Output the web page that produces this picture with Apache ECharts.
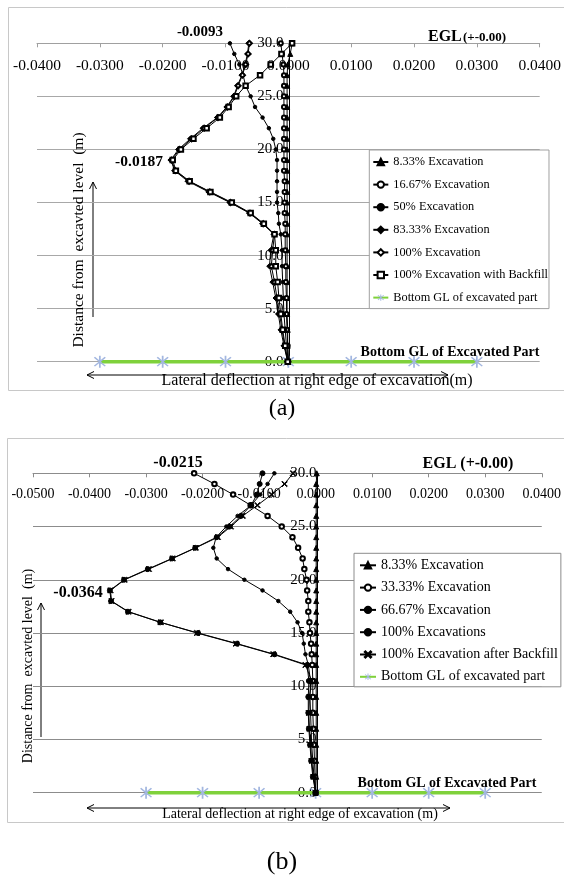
<!DOCTYPE html>
<html>
<head>
<meta charset="utf-8">
<script src="https://cdn.jsdelivr.net/npm/echarts@6/dist/echarts.min.js"></script>
<style>
  html, body { margin: 0; padding: 0; background: #fff; }
  #chart { width: 564px; height: 877px; }
</style>
</head>
<body>
<div id="chart"></div>
<script>
// distance from excavated level (m), same points for every curve
var depths = [30, 29, 28, 27, 26, 25, 24, 23, 22, 21, 20, 19, 18, 17, 16, 15, 14, 13, 12, 10.5, 9, 7.5, 6, 4.5, 3, 1.5, 0];

// (a) lateral deflection (m)
var aExc833 = [0.0006, 0.0003, -0.0001, -0.0002, -0.0002, -0.0002, -0.0002, -0.0002, -0.0002, -0.0002, -0.0002, -0.0002, -0.0002, -0.0002, -0.0002, -0.0002, -0.0002, -0.0002, -0.0002, -0.0002, -0.0002, -0.0002, -0.0002, -0.0002, -0.0001, -0.0001, 0];
var aExc1667 = [-0.0012, -0.0010, -0.0008, -0.0007, -0.0007, -0.0007, -0.0007, -0.0007, -0.0007, -0.0007, -0.0007, -0.0007, -0.0007, -0.0006, -0.0006, -0.0006, -0.0006, -0.0005, -0.0005, -0.0005, -0.0004, -0.0004, -0.0003, -0.0003, -0.0002, -0.0001, 0];
var aExc50 = [-0.0093, -0.0086, -0.0078, -0.0072, -0.0068, -0.0060, -0.0053, -0.0041, -0.0031, -0.0024, -0.0020, -0.0018, -0.0018, -0.0018, -0.0018, -0.0018, -0.0016, -0.0015, -0.0012, -0.0010, -0.0010, -0.0009, -0.0008, -0.0007, -0.0005, -0.0003, 0];
var aExc8333 = [-0.0063, -0.0065, -0.0069, -0.0074, -0.0081, -0.0087, -0.0098, -0.0113, -0.0136, -0.0156, -0.0175, -0.0187, -0.0181, -0.0160, -0.0127, -0.0093, -0.0062, -0.0041, -0.0023, -0.0028, -0.0030, -0.0025, -0.0020, -0.0016, -0.0012, -0.0007, -0.0001];
var aExc100 = [-0.0062, -0.0064, -0.0068, -0.0073, -0.0080, -0.0086, -0.0097, -0.0112, -0.0134, -0.0154, -0.0173, -0.0186, -0.0180, -0.0158, -0.0125, -0.0092, -0.0061, -0.0040, -0.0022, -0.0025, -0.0027, -0.0022, -0.0018, -0.0014, -0.0010, -0.0006, -0.0001];
var aBackfill = [0.0006, -0.0011, -0.0028, -0.0045, -0.0068, -0.0083, -0.0095, -0.0109, -0.0130, -0.0151, -0.0171, -0.0184, -0.0179, -0.0157, -0.0124, -0.0090, -0.0060, -0.0039, -0.0022, -0.0020, -0.0020, -0.0017, -0.0015, -0.0012, -0.0009, -0.0005, -0.0001];

// (b) lateral deflection (m)
var bExc833 = [0.0002, 0.0001, 0.0001, 0.0001, 0.0001, 0.0001, 0.0001, 0.0001, 0.0001, 0.0001, 0.0001, 0.0001, 0.0001, 0.0001, 0.0001, 0.0001, 0.0001, 0.0001, 0.0001, 0.0001, 0.0001, 0.0001, 0.0001, 0.0001, 0.0001, 0.0001, 0];
var bExc3333 = [-0.0215, -0.0179, -0.0146, -0.0115, -0.0085, -0.0060, -0.0041, -0.0031, -0.0023, -0.0020, -0.0016, -0.0015, -0.0013, -0.0013, -0.0011, -0.0010, -0.0008, -0.0007, -0.0006, -0.0005, -0.0005, -0.0005, -0.0004, -0.0003, -0.0002, -0.0001, 0];
var bExc6667 = [-0.0073, -0.0085, -0.0098, -0.0114, -0.0138, -0.0158, -0.0176, -0.0181, -0.0175, -0.0155, -0.0126, -0.0094, -0.0066, -0.0045, -0.0032, -0.0024, -0.0021, -0.0018, -0.0013, -0.0009, -0.0010, -0.0009, -0.0008, -0.0007, -0.0005, -0.0003, 0];
var bExc100 = [-0.0094, -0.0099, -0.0104, -0.0114, -0.0132, -0.0152, -0.0175, -0.0213, -0.0254, -0.0297, -0.0339, -0.0364, -0.0362, -0.0332, -0.0275, -0.0208, -0.0139, -0.0073, -0.0015, -0.0012, -0.0013, -0.0013, -0.0012, -0.0010, -0.0008, -0.0005, 0];
var bBackfill = [-0.0040, -0.0055, -0.0078, -0.0103, -0.0129, -0.0150, -0.0173, -0.0212, -0.0253, -0.0295, -0.0338, -0.0363, -0.0361, -0.0331, -0.0274, -0.0210, -0.0141, -0.0075, -0.0018, -0.0007, -0.0011, -0.0012, -0.0011, -0.0009, -0.0007, -0.0004, 0];

// bottom ground level of the excavated part
var bottomGlX = [-0.03, -0.02, -0.01, 0, 0.01, 0.02, 0.03];
var bottomGlDepth = 0;

// x axis ranges
var xMinA = -0.04, xMinB = -0.05, xMax = 0.04;

var legendA = ["8.33% Excavation", "16.67% Excavation", "50% Excavation", "83.33% Excavation", "100% Excavation", "100% Excavation with Backfill", "Bottom GL of excavated part"];
var legendB = ["8.33% Excavation", "33.33% Excavation", "66.67% Excavation", "100% Excavations", "100% Excavation after Backfill", "Bottom GL of excavated part"];

var serif = '"Liberation Serif", "Times New Roman", serif';
var xMark = "path://M0,1L1,0L5,4L9,0L10,1L6,5L10,9L9,10L5,6L1,10L0,9L4,5Z";
var star = "path://M4.4,0H5.6V10H4.4Z M0.9,1.7L1.7,0.9L9.1,8.3L8.3,9.1Z M8.3,0.9L9.1,1.7L1.7,9.1L0.9,8.3Z";

var gridA = { left: 37, right: 22, top: 43.3, bottom: 515.3 };
var gridB = { left: 33, right: 19, top: 473.3, bottom: 84.3 };

function curve(name, vals, gi, symbol, size) {
  return {
    type: "line",
    name: name,
    xAxisIndex: gi,
    yAxisIndex: gi,
    data: vals.map(function (v, i) { return [v, depths[i]]; }),
    symbol: symbol,
    symbolSize: size,
    showAllSymbol: true,
    clip: false,
    color: "#000",
    itemStyle: { color: "#000", borderColor: "#000", borderWidth: 1 },
    lineStyle: { color: "#000", width: 1 },
    z: 3,
  };
}

function bottomLine(gi) {
  return {
    type: "line",
    name: "Bottom GL of excavated part",
    xAxisIndex: gi,
    yAxisIndex: gi,
    data: bottomGlX.map(function (v) { return [v, bottomGlDepth]; }),
    symbol: star,
    symbolSize: 12,
    clip: false,
    color: "#7fd13b",
    itemStyle: { color: "#a3b7e0" },
    lineStyle: { color: "#7fd13b", width: 3.5 },
    z: 2,
  };
}

function xAxisOf(gi, min, fs, margin, col) {
  return {
    gridIndex: gi,
    type: "value",
    position: "top",
    min: min,
    max: xMax,
    interval: 0.01,
    axisLine: { onZero: false, lineStyle: { color: col } },
    axisTick: { inside: true, length: 4, lineStyle: { color: col } },
    axisLabel: {
      inside: true,
      margin: margin,
      color: "#000",
      fontFamily: serif,
      fontSize: fs,
      formatter: function (v) { return v.toFixed(4); },
    },
    splitLine: { show: false },
  };
}

// vertical axis crosses the horizontal one at 0
function yAxisOf(gi, grid, min, fs, margin, col) {
  var width = 564 - grid.left - grid.right;
  return {
    gridIndex: gi,
    type: "value",
    position: "left",
    offset: -((0 - min) / (xMax - min)) * width,
    min: 0,
    max: 30,
    interval: 5,
    axisLine: { show: true, onZero: false, lineStyle: { color: "#000" } },
    axisTick: { show: false },
    axisLabel: {
      margin: margin,
      color: "#000",
      fontFamily: serif,
      fontSize: fs,
      formatter: function (v) { return v.toFixed(1); },
    },
    splitLine: { show: true, lineStyle: { color: col, width: 1 } },
  };
}

function txt(x, y, text, font, align, rot) {
  return {
    type: "text",
    x: x,
    y: y,
    rotation: rot || 0,
    z: 10,
    style: { text: text, font: font, fill: "#000", align: align || "center", verticalAlign: "middle" },
  };
}

function hArrow(x1, x2, y) {
  return [
    { type: "line", shape: { x1: x1, y1: y, x2: x2, y2: y }, style: { stroke: "#000", lineWidth: 1 } },
    { type: "polyline", shape: { points: [[x1 + 7, y - 3.5], [x1, y], [x1 + 7, y + 3.5]] }, style: { stroke: "#000", fill: null, lineWidth: 1 } },
    { type: "polyline", shape: { points: [[x2 - 7, y - 3.5], [x2, y], [x2 - 7, y + 3.5]] }, style: { stroke: "#000", fill: null, lineWidth: 1 } },
  ];
}

function vArrow(x, y1, y2) {
  return [
    { type: "line", shape: { x1: x, y1: y1, x2: x, y2: y2 }, style: { stroke: "#000", lineWidth: 1 } },
    { type: "polyline", shape: { points: [[x - 3.5, y2 + 7], [x, y2], [x + 3.5, y2 + 7]] }, style: { stroke: "#000", fill: null, lineWidth: 1 } },
  ];
}

var graphics = [
  { type: "rect", shape: { x: 8.5, y: 7.5, width: 560, height: 383 }, style: { fill: null, stroke: "#c8c8c8", lineWidth: 1 } },
  { type: "rect", shape: { x: 7.5, y: 438.5, width: 560, height: 384 }, style: { fill: null, stroke: "#c8c8c8", lineWidth: 1 } },

  txt(200, 32, "-0.0093", "bold 15px " + serif),
  txt(428, 37, "EGL", "bold 16px " + serif, "left"),
  txt(463, 38, "(+-0.00)", "bold 13px " + serif, "left"),
  txt(139, 162, "-0.0187", "bold 15.5px " + serif),
  txt(450, 352, "Bottom GL of Excavated Part", "bold 14px " + serif),
  txt(317, 381, "Lateral deflection at right edge of excavation(m)", "16px " + serif),
  txt(79, 240, "Distance from  excavted level  (m)", "15.5px " + serif, "center", Math.PI / 2),
  txt(282, 409, "(a)", "24px " + serif),

  txt(178, 463, "-0.0215", "bold 16px " + serif),
  txt(468, 464, "EGL (+-0.00)", "bold 16px " + serif),
  txt(78, 593, "-0.0364", "bold 16px " + serif),
  txt(447, 783, "Bottom GL of Excavated Part", "bold 14px " + serif),
  txt(300, 814, "Lateral deflection at right edge of excavation (m)", "14px " + serif),
  txt(28, 666, "Distance from  excavted level  (m)", "14px " + serif, "center", Math.PI / 2),
  txt(282, 862, "(b)", "26px " + serif),
]
  .concat(hArrow(87, 448, 375))
  .concat(vArrow(93, 317, 182))
  .concat(hArrow(87, 450, 808))
  .concat(vArrow(41, 737, 603));

var chart = echarts.init(document.getElementById("chart"), null, { renderer: "canvas" });

var option = {
  animation: false,
  backgroundColor: "#fff",
  grid: [gridA, gridB],
  xAxis: [xAxisOf(0, xMinA, 15.5, 15, "#a0a0a0"), xAxisOf(1, xMinB, 14, 14.5, "#8c8c8c")],
  yAxis: [yAxisOf(0, gridA, xMinA, 15, 6, "#a8a8a8"), yAxisOf(1, gridB, xMinB, 15, 1, "#8c8c8c")],
  legend: [
    {
      data: legendA,
      orient: "vertical",
      left: 369.3,
      top: 150,
      itemWidth: 15,
      itemHeight: 8,
      itemGap: 6.6,
      padding: [4, 1, 3, 3],
      backgroundColor: "#fff",
      borderColor: "#a0a0a0",
      borderWidth: 1,
      textStyle: { fontFamily: serif, fontSize: 12.3, color: "#000", lineHeight: 16 },
    },
    {
      data: legendB,
      orient: "vertical",
      left: 354,
      top: 553.3,
      itemWidth: 16,
      itemHeight: 8,
      itemGap: 6.3,
      padding: [4, 3, 2, 5],
      backgroundColor: "#fff",
      borderColor: "#8c8c8c",
      borderWidth: 1,
      textStyle: { fontFamily: serif, fontSize: 14, color: "#000", lineHeight: 16 },
    },
  ],
  graphic: graphics,
  series: [
    bottomLine(0),
    curve("8.33% Excavation", aExc833, 0, "triangle", 5),
    curve("16.67% Excavation", aExc1667, 0, "emptyCircle", 4),
    curve("50% Excavation", aExc50, 0, "circle", 3.5),
    curve("83.33% Excavation", aExc8333, 0, "diamond", 5.5),
    curve("100% Excavation", aExc100, 0, "emptyDiamond", 5),
    curve("100% Excavation with Backfill", aBackfill, 0, "emptyRect", 4.5),

    bottomLine(1),
    curve("8.33% Excavation", bExc833, 1, "triangle", 5),
    curve("33.33% Excavation", bExc3333, 1, "emptyCircle", 4.5),
    curve("66.67% Excavation", bExc6667, 1, "circle", 3.5),
    curve("100% Excavations", bExc100, 1, "circle", 5),
    curve("100% Excavation after Backfill", bBackfill, 1, xMark, 5.5),
  ],
};

chart.setOption(option);
window.addEventListener("resize", function () {
  chart.resize();
});
</script>
</body>
</html>
